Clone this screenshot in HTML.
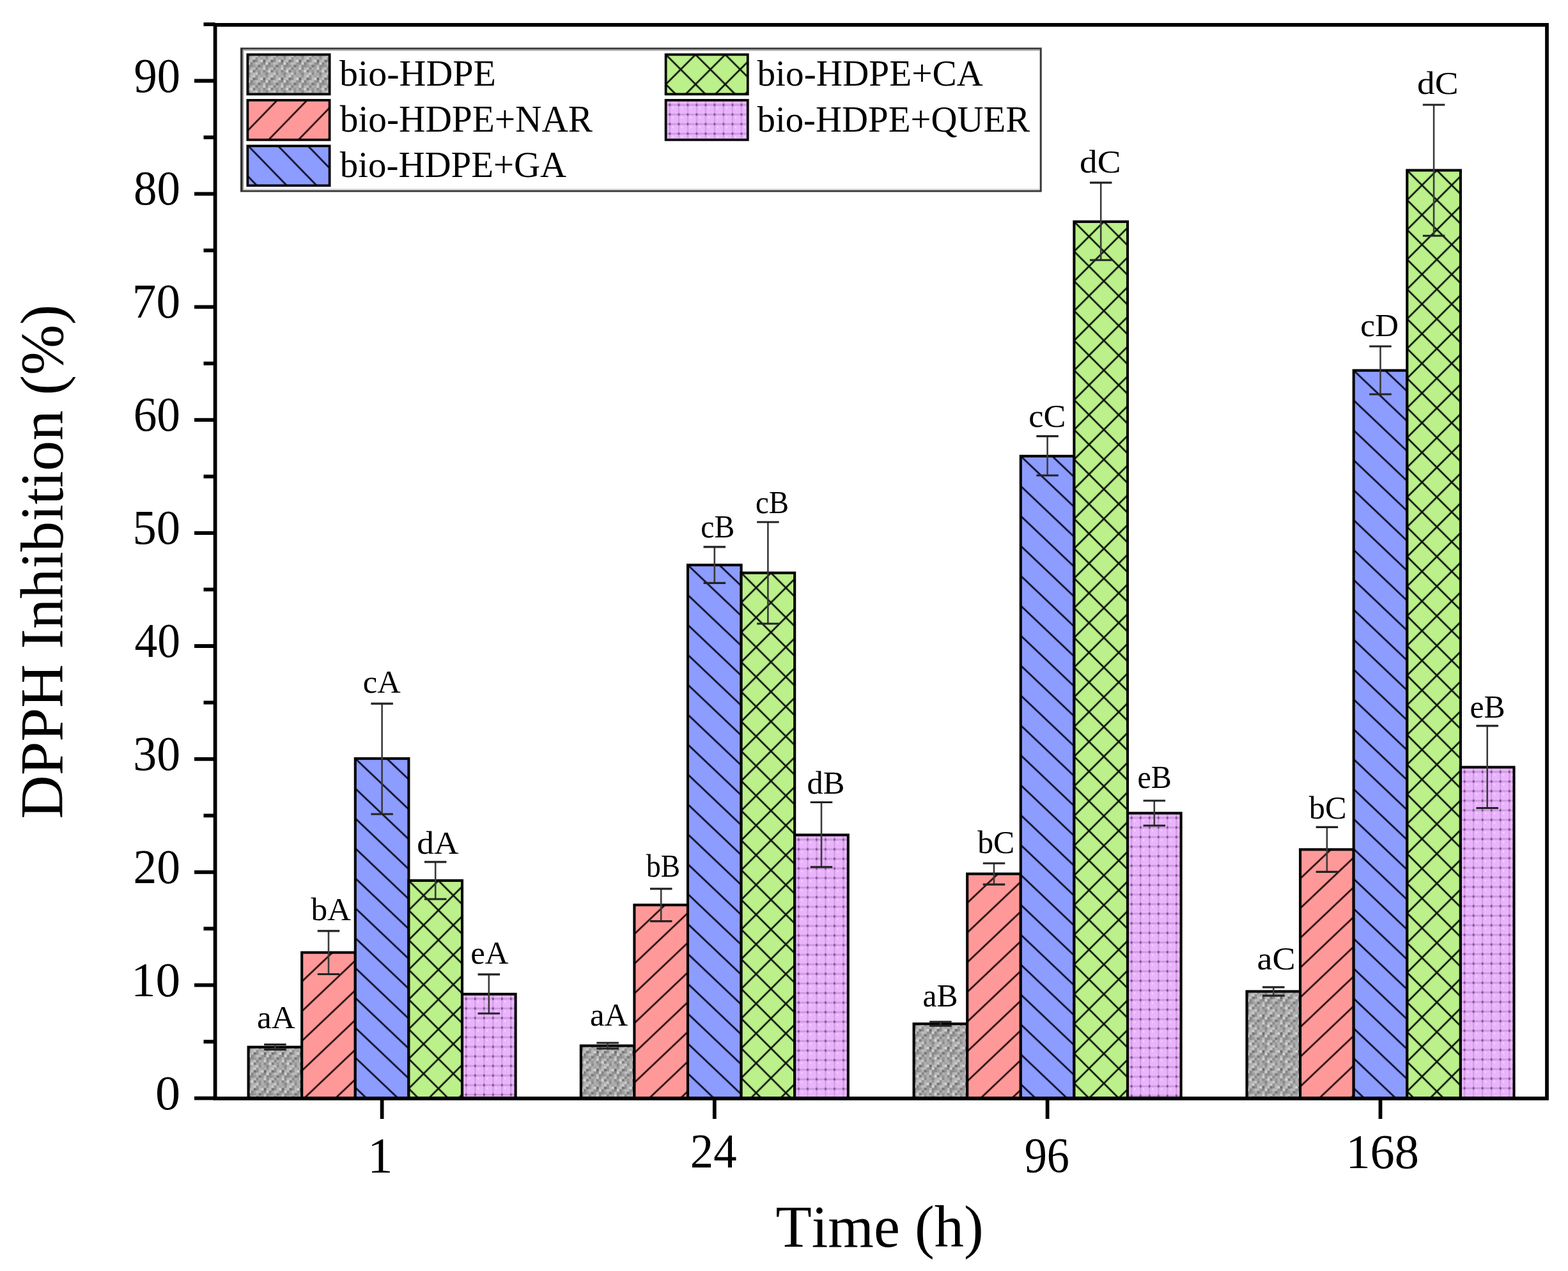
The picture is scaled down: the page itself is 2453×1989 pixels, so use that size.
<!DOCTYPE html><html><head><meta charset="utf-8"><title>DPPH Inhibition (%) vs Time (h)</title>
<style>html,body{margin:0;padding:0;background:#fff;overflow:hidden}svg{display:block}text{font-family:"Liberation Serif","DejaVu Serif",serif;fill:#000;font-kerning:none;font-variant-ligatures:none}</style></head><body>
<svg xmlns="http://www.w3.org/2000/svg" width="2453" height="1989" viewBox="0 0 2453 1989">
<rect width="100%" height="100%" fill="#fff"/>
<defs>
<pattern id="pg" patternUnits="userSpaceOnUse" width="28" height="28">
<rect width="28" height="28" fill="#adadad"/>
<rect x="0" y="0" width="4" height="4" fill="rgb(136,136,136)"/>
<rect x="4" y="0" width="4" height="4" fill="rgb(173,173,173)"/>
<rect x="8" y="0" width="4" height="4" fill="rgb(181,181,181)"/>
<rect x="12" y="0" width="4" height="4" fill="rgb(200,200,200)"/>
<rect x="16" y="0" width="4" height="4" fill="rgb(140,140,140)"/>
<rect x="20" y="0" width="4" height="4" fill="rgb(175,175,175)"/>
<rect x="24" y="0" width="4" height="4" fill="rgb(164,164,164)"/>
<rect x="0" y="4" width="4" height="4" fill="rgb(149,149,149)"/>
<rect x="4" y="4" width="4" height="4" fill="rgb(184,184,184)"/>
<rect x="8" y="4" width="4" height="4" fill="rgb(202,202,202)"/>
<rect x="12" y="4" width="4" height="4" fill="rgb(148,148,148)"/>
<rect x="16" y="4" width="4" height="4" fill="rgb(177,177,177)"/>
<rect x="20" y="4" width="4" height="4" fill="rgb(163,163,163)"/>
<rect x="24" y="4" width="4" height="4" fill="rgb(178,178,178)"/>
<rect x="0" y="8" width="4" height="4" fill="rgb(180,180,180)"/>
<rect x="4" y="8" width="4" height="4" fill="rgb(191,191,191)"/>
<rect x="8" y="8" width="4" height="4" fill="rgb(117,117,117)"/>
<rect x="12" y="8" width="4" height="4" fill="rgb(143,143,143)"/>
<rect x="16" y="8" width="4" height="4" fill="rgb(186,186,186)"/>
<rect x="20" y="8" width="4" height="4" fill="rgb(212,212,212)"/>
<rect x="24" y="8" width="4" height="4" fill="rgb(110,110,110)"/>
<rect x="0" y="12" width="4" height="4" fill="rgb(210,210,210)"/>
<rect x="4" y="12" width="4" height="4" fill="rgb(133,133,133)"/>
<rect x="8" y="12" width="4" height="4" fill="rgb(166,166,166)"/>
<rect x="12" y="12" width="4" height="4" fill="rgb(191,191,191)"/>
<rect x="16" y="12" width="4" height="4" fill="rgb(182,182,182)"/>
<rect x="20" y="12" width="4" height="4" fill="rgb(147,147,147)"/>
<rect x="24" y="12" width="4" height="4" fill="rgb(138,138,138)"/>
<rect x="0" y="16" width="4" height="4" fill="rgb(141,141,141)"/>
<rect x="4" y="16" width="4" height="4" fill="rgb(142,142,142)"/>
<rect x="8" y="16" width="4" height="4" fill="rgb(155,155,155)"/>
<rect x="12" y="16" width="4" height="4" fill="rgb(174,174,174)"/>
<rect x="16" y="16" width="4" height="4" fill="rgb(120,120,120)"/>
<rect x="20" y="16" width="4" height="4" fill="rgb(153,153,153)"/>
<rect x="24" y="16" width="4" height="4" fill="rgb(190,190,190)"/>
<rect x="0" y="20" width="4" height="4" fill="rgb(139,139,139)"/>
<rect x="4" y="20" width="4" height="4" fill="rgb(181,181,181)"/>
<rect x="8" y="20" width="4" height="4" fill="rgb(192,192,192)"/>
<rect x="12" y="20" width="4" height="4" fill="rgb(136,136,136)"/>
<rect x="16" y="20" width="4" height="4" fill="rgb(175,175,175)"/>
<rect x="20" y="20" width="4" height="4" fill="rgb(164,164,164)"/>
<rect x="24" y="20" width="4" height="4" fill="rgb(205,205,205)"/>
<rect x="0" y="24" width="4" height="4" fill="rgb(166,166,166)"/>
<rect x="4" y="24" width="4" height="4" fill="rgb(212,212,212)"/>
<rect x="8" y="24" width="4" height="4" fill="rgb(126,126,126)"/>
<rect x="12" y="24" width="4" height="4" fill="rgb(169,169,169)"/>
<rect x="16" y="24" width="4" height="4" fill="rgb(152,152,152)"/>
<rect x="20" y="24" width="4" height="4" fill="rgb(177,177,177)"/>
<rect x="24" y="24" width="4" height="4" fill="rgb(137,137,137)"/>
</pattern>
<pattern id="pr" patternUnits="userSpaceOnUse" width="33.712" height="20" patternTransform="translate(0,-1.0) rotate(46.469)">
<rect width="33.712" height="20" fill="#ff9999"/><rect x="-1.32" width="2.65" height="20" fill="#1f0a0a"/><rect x="32.387" width="2.65" height="20" fill="#1f0a0a"/>
</pattern>
<pattern id="pb" patternUnits="userSpaceOnUse" width="33.930" height="20" patternTransform="rotate(-46.469)">
<rect width="33.930" height="20" fill="#8c9cff"/><rect x="-1.32" width="2.65" height="20" fill="#0a0a1f"/><rect x="32.605" width="2.65" height="20" fill="#0a0a1f"/>
</pattern>
<pattern id="prl" patternUnits="userSpaceOnUse" width="33.506" height="20" patternTransform="translate(-0.4,0) rotate(44.153)">
<rect width="33.506" height="20" fill="#ff9999"/><rect x="-1.32" width="2.65" height="20" fill="#1f0a0a"/><rect x="32.181" width="2.65" height="20" fill="#1f0a0a"/>
</pattern>
<pattern id="pbl" patternUnits="userSpaceOnUse" width="33.506" height="20" patternTransform="translate(1.1,0) rotate(-44.153)">
<rect width="33.506" height="20" fill="#8c9cff"/><rect x="-1.32" width="2.65" height="20" fill="#0a0a1f"/><rect x="32.181" width="2.65" height="20" fill="#0a0a1f"/>
</pattern>
<pattern id="pgr" patternUnits="userSpaceOnUse" width="32.880" height="32.880" patternTransform="rotate(45)">
<rect width="32.880" height="32.880" fill="#bbf08a"/>
<rect x="-1.32" width="2.65" height="32.880" fill="#081008"/><rect y="-1.32" height="2.65" width="32.880" fill="#081008"/>
<rect x="31.56" width="2.65" height="32.880" fill="#081008"/><rect y="31.56" height="2.65" width="32.880" fill="#081008"/>
</pattern>
<pattern id="pp" patternUnits="userSpaceOnUse" width="14.00" height="15.00">
<rect width="14.00" height="15.00" fill="#e9b4fb"/>
<rect x="0" y="6.4" width="14.00" height="2.0" fill="#c48fd6"/>
<rect x="5.4" y="0" width="1.8" height="15.00" fill="#cc98de"/>
<rect x="4.9" y="5.6" width="2.8" height="3.6" fill="#7e4e90"/>
<rect x="10" y="11" width="2.2" height="2.2" fill="#f8d8ff"/>
</pattern>
</defs>
<g transform="translate(388.60,1638.60)"><rect width="83.60" height="80.40" fill="url(#pg)" stroke="#000" stroke-width="4.10"/></g>
<g transform="translate(472.20,1490.60)"><rect width="83.60" height="228.40" fill="url(#pr)" stroke="#000" stroke-width="4.10"/></g>
<g transform="translate(555.80,1187.10)"><rect width="83.60" height="531.90" fill="url(#pb)" stroke="#000" stroke-width="4.10"/></g>
<g transform="translate(639.40,1378.00)"><rect width="83.60" height="341.00" fill="url(#pgr)" stroke="#000" stroke-width="4.10"/></g>
<g transform="translate(723.00,1555.70)"><rect width="83.60" height="163.30" fill="url(#pp)" stroke="#000" stroke-width="4.10"/></g>
<g transform="translate(908.80,1636.50)"><rect width="83.60" height="82.50" fill="url(#pg)" stroke="#000" stroke-width="4.10"/></g>
<g transform="translate(992.40,1416.20)"><rect width="83.60" height="302.80" fill="url(#pr)" stroke="#000" stroke-width="4.10"/></g>
<g transform="translate(1076.00,884.20)"><rect width="83.60" height="834.80" fill="url(#pb)" stroke="#000" stroke-width="4.10"/></g>
<g transform="translate(1159.60,896.50)"><rect width="83.60" height="822.50" fill="url(#pgr)" stroke="#000" stroke-width="4.10"/></g>
<g transform="translate(1243.20,1306.60)"><rect width="83.60" height="412.40" fill="url(#pp)" stroke="#000" stroke-width="4.10"/></g>
<g transform="translate(1429.60,1602.20)"><rect width="83.60" height="116.80" fill="url(#pg)" stroke="#000" stroke-width="4.10"/></g>
<g transform="translate(1513.20,1367.50)"><rect width="83.60" height="351.50" fill="url(#pr)" stroke="#000" stroke-width="4.10"/></g>
<g transform="translate(1596.80,713.80)"><rect width="83.60" height="1005.20" fill="url(#pb)" stroke="#000" stroke-width="4.10"/></g>
<g transform="translate(1680.40,346.90)"><rect width="83.60" height="1372.10" fill="url(#pgr)" stroke="#000" stroke-width="4.10"/></g>
<g transform="translate(1764.00,1272.50)"><rect width="83.60" height="446.50" fill="url(#pp)" stroke="#000" stroke-width="4.10"/></g>
<g transform="translate(1950.50,1551.50)"><rect width="83.60" height="167.50" fill="url(#pg)" stroke="#000" stroke-width="4.10"/></g>
<g transform="translate(2034.10,1329.40)"><rect width="83.60" height="389.60" fill="url(#pr)" stroke="#000" stroke-width="4.10"/></g>
<g transform="translate(2117.70,579.70)"><rect width="83.60" height="1139.30" fill="url(#pb)" stroke="#000" stroke-width="4.10"/></g>
<g transform="translate(2201.30,266.50)"><rect width="83.60" height="1452.50" fill="url(#pgr)" stroke="#000" stroke-width="4.10"/></g>
<g transform="translate(2284.90,1200.60)"><rect width="83.60" height="518.40" fill="url(#pp)" stroke="#000" stroke-width="4.10"/></g>
<path d="M430.40,1634.50 V1642.50" stroke="#3a3a3a" stroke-width="2.6"/>
<path d="M413.15,1634.50 h34.50 M413.15,1642.50 h34.50" stroke="#222" stroke-width="3.2"/>
<path d="M514.00,1456.90 V1524.50" stroke="#3a3a3a" stroke-width="2.6"/>
<path d="M496.75,1456.90 h34.50 M496.75,1524.50 h34.50" stroke="#222" stroke-width="3.2"/>
<path d="M597.60,1101.20 V1274.00" stroke="#3a3a3a" stroke-width="2.6"/>
<path d="M580.35,1101.20 h34.50 M580.35,1274.00 h34.50" stroke="#222" stroke-width="3.2"/>
<path d="M681.20,1348.90 V1407.00" stroke="#3a3a3a" stroke-width="2.6"/>
<path d="M663.95,1348.90 h34.50 M663.95,1407.00 h34.50" stroke="#222" stroke-width="3.2"/>
<path d="M764.80,1524.90 V1586.00" stroke="#3a3a3a" stroke-width="2.6"/>
<path d="M747.55,1524.90 h34.50 M747.55,1586.00 h34.50" stroke="#222" stroke-width="3.2"/>
<path d="M950.60,1632.00 V1641.00" stroke="#3a3a3a" stroke-width="2.6"/>
<path d="M933.35,1632.00 h34.50 M933.35,1641.00 h34.50" stroke="#222" stroke-width="3.2"/>
<path d="M1034.20,1390.80 V1441.60" stroke="#3a3a3a" stroke-width="2.6"/>
<path d="M1016.95,1390.80 h34.50 M1016.95,1441.60 h34.50" stroke="#222" stroke-width="3.2"/>
<path d="M1117.80,855.80 V912.40" stroke="#3a3a3a" stroke-width="2.6"/>
<path d="M1100.55,855.80 h34.50 M1100.55,912.40 h34.50" stroke="#222" stroke-width="3.2"/>
<path d="M1201.40,817.00 V976.00" stroke="#3a3a3a" stroke-width="2.6"/>
<path d="M1184.15,817.00 h34.50 M1184.15,976.00 h34.50" stroke="#222" stroke-width="3.2"/>
<path d="M1285.00,1255.50 V1356.80" stroke="#3a3a3a" stroke-width="2.6"/>
<path d="M1267.75,1255.50 h34.50 M1267.75,1356.80 h34.50" stroke="#222" stroke-width="3.2"/>
<path d="M1471.40,1599.00 V1605.20" stroke="#3a3a3a" stroke-width="2.6"/>
<path d="M1454.15,1599.00 h34.50 M1454.15,1605.20 h34.50" stroke="#222" stroke-width="3.2"/>
<path d="M1555.00,1351.00 V1384.20" stroke="#3a3a3a" stroke-width="2.6"/>
<path d="M1537.75,1351.00 h34.50 M1537.75,1384.20 h34.50" stroke="#222" stroke-width="3.2"/>
<path d="M1638.60,682.70 V744.00" stroke="#3a3a3a" stroke-width="2.6"/>
<path d="M1621.35,682.70 h34.50 M1621.35,744.00 h34.50" stroke="#222" stroke-width="3.2"/>
<path d="M1722.20,285.90 V407.00" stroke="#3a3a3a" stroke-width="2.6"/>
<path d="M1704.95,285.90 h34.50 M1704.95,407.00 h34.50" stroke="#222" stroke-width="3.2"/>
<path d="M1805.80,1253.00 V1292.00" stroke="#3a3a3a" stroke-width="2.6"/>
<path d="M1788.55,1253.00 h34.50 M1788.55,1292.00 h34.50" stroke="#222" stroke-width="3.2"/>
<path d="M1992.30,1544.90 V1558.10" stroke="#3a3a3a" stroke-width="2.6"/>
<path d="M1975.05,1544.90 h34.50 M1975.05,1558.10 h34.50" stroke="#222" stroke-width="3.2"/>
<path d="M2075.90,1294.30 V1364.40" stroke="#3a3a3a" stroke-width="2.6"/>
<path d="M2058.65,1294.30 h34.50 M2058.65,1364.40 h34.50" stroke="#222" stroke-width="3.2"/>
<path d="M2159.50,542.00 V617.00" stroke="#3a3a3a" stroke-width="2.6"/>
<path d="M2142.25,542.00 h34.50 M2142.25,617.00 h34.50" stroke="#222" stroke-width="3.2"/>
<path d="M2243.10,164.00 V369.00" stroke="#3a3a3a" stroke-width="2.6"/>
<path d="M2225.85,164.00 h34.50 M2225.85,369.00 h34.50" stroke="#222" stroke-width="3.2"/>
<path d="M2326.70,1135.90 V1264.50" stroke="#3a3a3a" stroke-width="2.6"/>
<path d="M2309.45,1135.90 h34.50 M2309.45,1264.50 h34.50" stroke="#222" stroke-width="3.2"/>
<text transform="translate(402.00,1609.20) scale(1.0052,1)" font-size="51.00">aA</text>
<text transform="translate(486.45,1440.40) scale(1.0055,1)" font-size="51.00">bA</text>
<text transform="translate(567.78,1083.70) scale(0.9904,1)" font-size="51.00">cA</text>
<text transform="translate(652.32,1336.20) scale(1.0463,1)" font-size="51.00">dA</text>
<text transform="translate(736.16,1508.40) scale(0.9965,1)" font-size="51.00">eA</text>
<text transform="translate(922.91,1604.50) scale(0.9982,1)" font-size="51.00">aA</text>
<text transform="translate(1011.00,1372.30) scale(0.8908,1)" font-size="51.00">bB</text>
<text transform="translate(1096.28,841.10) scale(0.9345,1)" font-size="51.00">cB</text>
<text transform="translate(1182.01,802.90) scale(0.9192,1)" font-size="51.00">cB</text>
<text transform="translate(1262.48,1242.00) scale(0.9894,1)" font-size="51.00">dB</text>
<text transform="translate(1443.61,1574.70) scale(0.9719,1)" font-size="51.00">aB</text>
<text transform="translate(1529.15,1335.40) scale(0.9753,1)" font-size="51.00">bC</text>
<text transform="translate(1609.31,668.00) scale(1.0251,1)" font-size="51.00">cC</text>
<text transform="translate(1689.10,269.80) scale(1.0828,1)" font-size="51.00">dC</text>
<text transform="translate(1779.52,1233.30) scale(0.9431,1)" font-size="51.00">eB</text>
<text transform="translate(1966.55,1517.20) scale(1.0587,1)" font-size="51.00">aC</text>
<text transform="translate(2047.75,1280.90) scale(0.9858,1)" font-size="51.00">bC</text>
<text transform="translate(2128.20,526.00) scale(1.0039,1)" font-size="51.00">cD</text>
<text transform="translate(2217.10,146.70) scale(1.0828,1)" font-size="51.00">dC</text>
<text transform="translate(2299.51,1122.50) scale(0.9756,1)" font-size="51.00">eB</text>
<rect x="336.60" y="38.90" width="2083.40" height="1680.10" fill="none" stroke="#000" stroke-width="5.80"/>
<path d="M304.0,1718.60 H336.60" stroke="#000" stroke-width="5.80"/>
<text transform="translate(243.12,1735.65) scale(1.0244,1)" font-size="76.47">0</text>
<path d="M318.5,1630.15 H336.60" stroke="#000" stroke-width="5.80"/>
<path d="M304.0,1541.70 H336.60" stroke="#000" stroke-width="5.80"/>
<text transform="translate(205.01,1558.75) scale(1.0100,1)" font-size="76.47">10</text>
<path d="M318.5,1453.25 H336.60" stroke="#000" stroke-width="5.80"/>
<path d="M304.0,1364.80 H336.60" stroke="#000" stroke-width="5.80"/>
<text transform="translate(208.57,1381.85) scale(0.9616,1)" font-size="76.47">20</text>
<path d="M318.5,1276.35 H336.60" stroke="#000" stroke-width="5.80"/>
<path d="M304.0,1187.90 H336.60" stroke="#000" stroke-width="5.80"/>
<text transform="translate(208.27,1204.95) scale(0.9657,1)" font-size="76.47">30</text>
<path d="M318.5,1099.45 H336.60" stroke="#000" stroke-width="5.80"/>
<path d="M304.0,1011.00 H336.60" stroke="#000" stroke-width="5.80"/>
<text transform="translate(210.40,1028.05) scale(0.9367,1)" font-size="76.47">40</text>
<path d="M318.5,922.55 H336.60" stroke="#000" stroke-width="5.80"/>
<path d="M304.0,834.10 H336.60" stroke="#000" stroke-width="5.80"/>
<text transform="translate(207.46,851.15) scale(0.9767,1)" font-size="76.47">50</text>
<path d="M318.5,745.65 H336.60" stroke="#000" stroke-width="5.80"/>
<path d="M304.0,657.20 H336.60" stroke="#000" stroke-width="5.80"/>
<text transform="translate(208.64,674.25) scale(0.9606,1)" font-size="76.47">60</text>
<path d="M318.5,568.75 H336.60" stroke="#000" stroke-width="5.80"/>
<path d="M304.0,480.30 H336.60" stroke="#000" stroke-width="5.80"/>
<text transform="translate(206.83,497.35) scale(0.9852,1)" font-size="76.47">70</text>
<path d="M318.5,391.85 H336.60" stroke="#000" stroke-width="5.80"/>
<path d="M304.0,303.40 H336.60" stroke="#000" stroke-width="5.80"/>
<text transform="translate(209.02,320.45) scale(0.9555,1)" font-size="76.47">80</text>
<path d="M318.5,214.95 H336.60" stroke="#000" stroke-width="5.80"/>
<path d="M304.0,126.50 H336.60" stroke="#000" stroke-width="5.80"/>
<text transform="translate(209.46,143.55) scale(0.9495,1)" font-size="76.47">90</text>
<path d="M318.5,38.05 H336.60" stroke="#000" stroke-width="5.80"/>
<path d="M597.60,1719.00 V1751" stroke="#000" stroke-width="5.80"/>
<path d="M1117.80,1719.00 V1751" stroke="#000" stroke-width="5.80"/>
<path d="M1638.60,1719.00 V1751" stroke="#000" stroke-width="5.80"/>
<path d="M2159.50,1719.00 V1751" stroke="#000" stroke-width="5.80"/>
<text transform="translate(574.99,1833.60) scale(1.0000,1)" font-size="79.22">1</text>
<text transform="translate(1079.80,1827.40) scale(0.9574,1)" font-size="75.97">24</text>
<text transform="translate(1602.74,1833.63) scale(0.8890,1)" font-size="79.03">96</text>
<text transform="translate(2105.38,1827.86) scale(1.0062,1)" font-size="76.02">168</text>
<text transform="translate(1213.43,1950.70) scale(0.9835,1)" font-size="93.77">Time (h)</text>
<g transform="translate(98.1,0) rotate(-90)"><text transform="translate(-1281.53,0.00) scale(1.0018,1)" font-size="94.53">DPPH Inhibition (%)</text></g>
<rect x="377.6" y="76.0" width="1250.6" height="223.0" fill="#fff" stroke="#383838" stroke-width="3"/>
<path d="M378.0,299.5 V75.5" stroke="#2e2e2e" stroke-width="3.6" fill="none"/>
<path d="M381.5,296.0 H1626" stroke="#d4d4d4" stroke-width="1.4" fill="none"/>
<path d="M380.6,297.5 V78.6 H1626.5" stroke="#a8a8a8" stroke-width="1.8" fill="none"/>
<g transform="translate(387.40,85.40)"><rect width="128.20" height="62.00" fill="url(#pg)" stroke="#000" stroke-width="3.80"/></g>
<text transform="translate(531.10,133.60) scale(1.0182,1)" font-size="56.97">bio-HDPE</text>
<g transform="translate(387.40,156.80)"><rect width="128.20" height="62.00" fill="url(#prl)" stroke="#000" stroke-width="3.80"/></g>
<text transform="translate(531.80,205.90) scale(0.9823,1)" font-size="58.34">bio-HDPE+NAR</text>
<g transform="translate(387.40,228.40)"><rect width="128.20" height="62.00" fill="url(#pbl)" stroke="#000" stroke-width="3.80"/></g>
<text transform="translate(531.80,276.50) scale(1.0013,1)" font-size="56.81">bio-HDPE+GA</text>
<g transform="translate(1041.60,85.40)"><rect width="128.20" height="62.00" fill="url(#pgr)" stroke="#000" stroke-width="3.80"/></g>
<text transform="translate(1184.50,134.20) scale(1.0023,1)" font-size="57.12">bio-HDPE+CA</text>
<g transform="translate(1041.60,156.80)"><rect width="128.20" height="62.00" fill="url(#pp)" stroke="#000" stroke-width="3.80"/></g>
<text transform="translate(1184.50,206.10) scale(0.9844,1)" font-size="57.73">bio-HDPE+QUER</text>
</svg></body></html>
